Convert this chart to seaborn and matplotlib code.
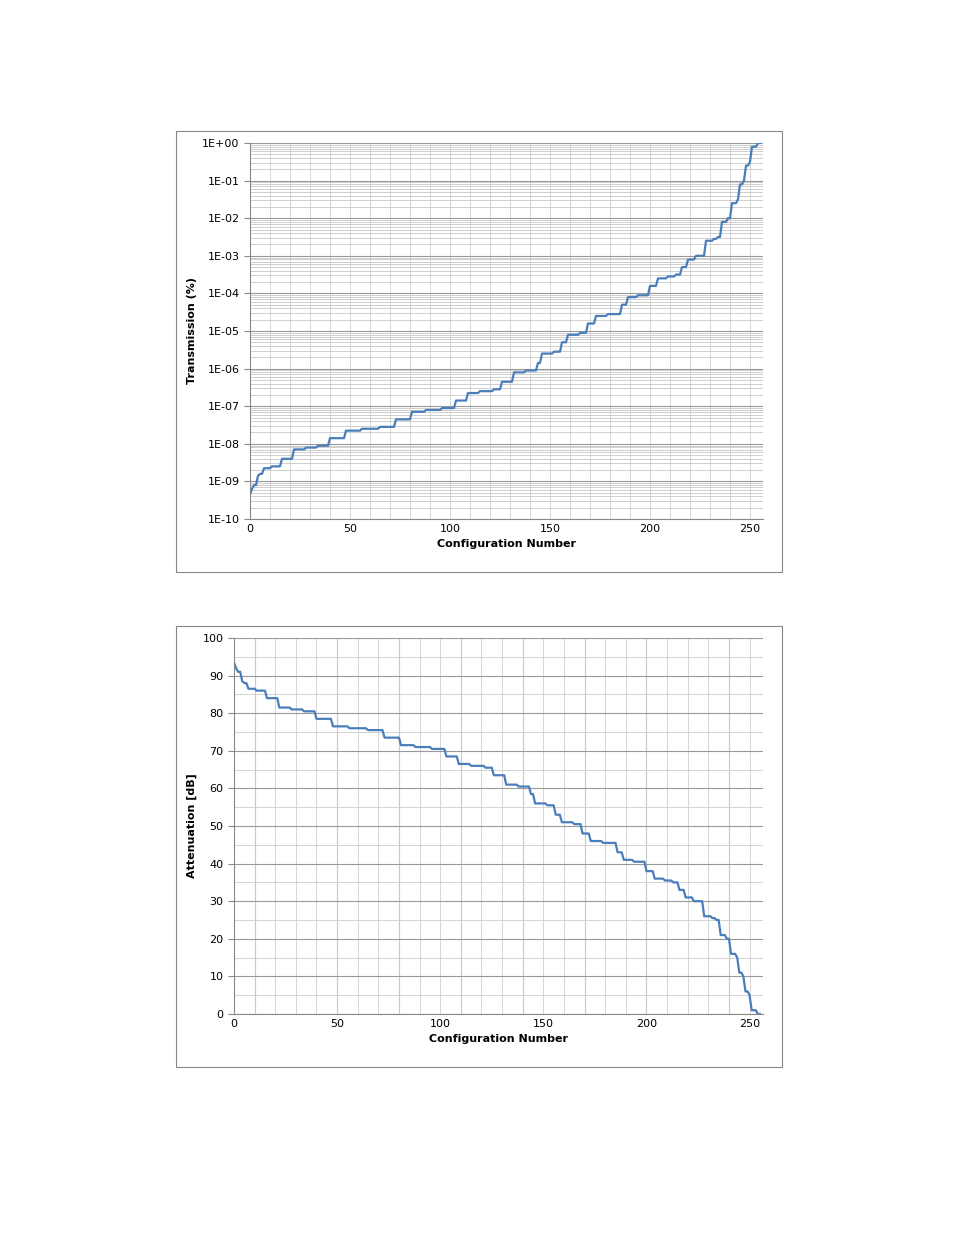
import numpy as np
import pandas as pd
import seaborn as sns
import matplotlib
matplotlib.use("Agg")
import matplotlib.pyplot as plt
from matplotlib.patches import Rectangle
from matplotlib.ticker import FixedLocator, NullFormatter

# Attenuation step levels (dB) and how many consecutive configurations sit at each level
att_levels = [93.5, 92, 91, 88.5, 88, 86.5, 86, 84, 81.5, 81, 80.5, 78.5, 76.5, 76, 75.5, 73.5,
              71.5, 71, 70.5, 68.5, 66.5, 66, 65.5, 63.5, 61, 60.5, 58.5, 56, 55.5, 53, 51, 50.5,
              48, 46, 45.5, 43, 41, 40.5, 38, 36, 35.5, 35, 33, 31, 30, 26, 25.5, 25, 21, 20,
              16, 15, 11, 10, 6, 5, 1, 0]
att_counts = [1, 1, 2, 1, 2, 4, 5, 6, 6, 6, 6, 8, 8, 9, 8, 8,
              7, 8, 7, 6, 6, 7, 4, 6, 6, 6, 2, 6, 4, 3, 6, 4,
              4, 6, 7, 3, 5, 6, 4, 5, 4, 3, 3, 4, 5, 4, 2, 2, 3, 2,
              3, 1, 2, 1, 2, 1, 3, 2]
top_yticks = [1e-10, 1e-9, 1e-8, 1e-7, 1e-6, 1e-5, 1e-4, 1e-3, 1e-2, 1e-1, 1e0]
top_yticklabels = ["1E-10", "1E-09", "1E-08", "1E-07", "1E-06", "1E-05", "1E-04", "1E-03", "1E-02", "1E-01", "1E+00"]

att = np.repeat(att_levels, att_counts).astype(float)
cfg = np.arange(len(att))
df = pd.DataFrame({"cfg": cfg, "att": att, "trans": 10 ** (-att / 10)})

W, H = 954, 1235
fig = plt.figure(figsize=(W / 100, H / 100), dpi=100)
plt.rcParams["font.family"] = "DejaVu Sans"
color = "#4a7ebb"

def box(x0, y0, x1, y1):
    fig.patches.append(Rectangle((x0 / W, 1 - y1 / H), (x1 - x0) / W, (y1 - y0) / H,
                                 transform=fig.transFigure, fill=False, ec="#888888", lw=0.8))

box(176, 131, 782, 572)
box(176, 626, 782, 1067)

def ax_at(x0, y0, x1, y1):
    return fig.add_axes([x0 / W, 1 - y1 / H, (x1 - x0) / W, (y1 - y0) / H])

# Top chart
ax1 = ax_at(250, 143, 763, 519)
ax1.set_yscale("log")
ax1.set_ylim(1e-10, 1)
ax1.set_xlim(0, 256.5)
ax1.set_yticks(top_yticks)
ax1.set_yticklabels(top_yticklabels, fontsize=8)
minors = [m * 10.0 ** e for e in range(-10, 0) for m in range(2, 10)]
ax1.yaxis.set_minor_locator(FixedLocator(minors))
ax1.yaxis.set_minor_formatter(NullFormatter())
ax1.set_xticks([0, 50, 100, 150, 200, 250])
ax1.xaxis.set_minor_locator(FixedLocator(np.arange(10, 256, 10)))
ax1.grid(True, which="major", axis="y", color="#999999", lw=0.8)
ax1.grid(True, which="minor", axis="y", color="#c8c8c8", lw=0.6)
ax1.grid(True, which="both", axis="x", color="#d0d0d0", lw=0.6)
sns.lineplot(data=df, x="cfg", y="trans", ax=ax1, color=color, lw=1.6)
ax1.set_xlabel("Configuration Number", fontsize=8, fontweight="bold")
ax1.set_ylabel("Transmission (%)", fontsize=8, fontweight="bold")

# Bottom chart
ax2 = ax_at(234, 638, 763, 1014)
ax2.set_ylim(0, 100)
ax2.set_xlim(0, 256.5)
ax2.set_yticks(np.arange(0, 101, 10))
ax2.yaxis.set_minor_locator(FixedLocator(np.arange(5, 100, 10)))
ax2.set_xticks([0, 50, 100, 150, 200, 250])
ax2.xaxis.set_minor_locator(FixedLocator(np.arange(10, 256, 10)))
ax2.grid(True, which="major", axis="y", color="#999999", lw=0.8)
ax2.grid(True, which="minor", axis="y", color="#cccccc", lw=0.6)
ax2.grid(True, which="both", axis="x", color="#d0d0d0", lw=0.6)
for xv in [10, 50, 80, 110, 140, 170, 200, 240]:
    ax2.axvline(xv, color="#aaaaaa", lw=0.8, zorder=0)
sns.lineplot(data=df, x="cfg", y="att", ax=ax2, color=color, lw=1.6)
ax2.set_xlabel("Configuration Number", fontsize=8, fontweight="bold")
ax2.set_ylabel("Attenuation [dB]", fontsize=8, fontweight="bold")

for ax in (ax1, ax2):
    ax.tick_params(labelsize=8, length=0, which="both")
    ax.tick_params(axis="y", length=4, which="major", color="#888888")
    for s in ["top", "right"]:
        ax.spines[s].set_visible(False)
    ax.spines["left"].set_color("#888888")
    ax.spines["bottom"].set_color("#888888")
    ax.set_axisbelow(True)

fig.savefig("out.png", dpi=100)
